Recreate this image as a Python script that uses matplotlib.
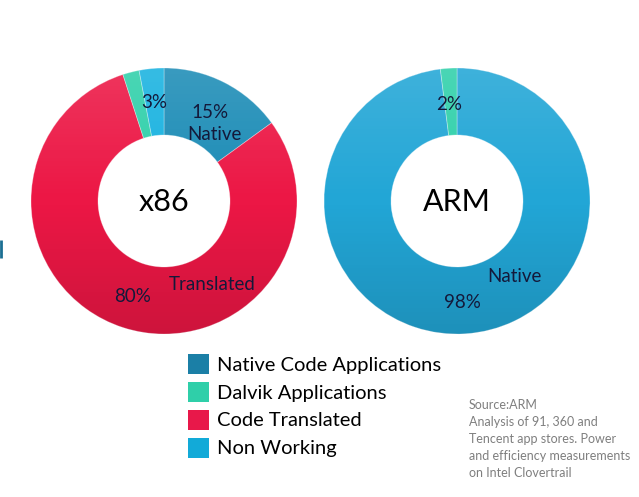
import matplotlib
matplotlib.use("Agg")
import matplotlib.pyplot as plt
import numpy as np
from matplotlib.patches import Wedge, Patch

plt.rcParams['font.family'] = ['Lato', 'DejaVu Sans']

categories = ['Native Code Applications', 'Dalvik Applications',
              'Code Translated', 'Non Working']
colors = {'Native Code Applications': '#1c8cb6',
          'Dalvik Applications': '#2fd0aa',
          'Code Translated': '#ec1745',
          'Non Working': '#18b2e0'}
legend_colors = ['#1b7fa6', '#2fcfa9', '#e8184a', '#12aad8']

# clockwise from 12 o'clock
x86_order = ['Native Code Applications', 'Code Translated',
             'Dalvik Applications', 'Non Working']
x86_values = [15, 80, 2, 3]
arm_order = ['Native Code Applications', 'Dalvik Applications']
arm_values = [98, 2]
arm_colors = ['#22a6d6', '#2fd0aa']

W, H = 639, 497
fig = plt.figure(figsize=(W / 100, H / 100), dpi=100)
ax = fig.add_axes([0, 0, 1, 1])

R = 133
ring = 67


def donut(cx, cy, vals, cols):
    ax.pie(vals, colors=cols, radius=R, center=(cx, cy), startangle=90,
           counterclock=False, frame=True,
           wedgeprops=dict(width=ring, edgecolor=(1, 1, 1, 0.35), linewidth=0.6))
    # soft vertical shading like the slide
    grad = np.zeros((100, 1, 4))
    t = np.linspace(0, 1, 100)
    grad[:, 0, :3] = np.where(t[:, None] < 0.5, 1.0, 0.0)
    grad[:, 0, 3] = np.abs(t - 0.5) * 0.26
    im = ax.imshow(grad, extent=(cx - R, cx + R, cy - R, cy + R),
                   origin='upper', aspect='auto', zorder=3)
    clip = Wedge((cx, cy), R, 0, 360, width=ring, transform=ax.transData)
    im.set_clip_path(clip)


donut(164, H - 201, x86_values, [colors[c] for c in x86_order])
donut(457, H - 201, arm_values, arm_colors)
ax.set_xlim(0, W)
ax.set_ylim(0, H)
ax.set_aspect('equal')
ax.axis('off')

lab = dict(color='#14193a', fontsize=13.5, ha='center', va='center', zorder=5)
ax.text(164, H - 202, 'x86', fontsize=22, color='black', ha='center', va='center', zorder=5)
ax.text(457, H - 202, 'ARM', fontsize=22, color='black', ha='center', va='center', zorder=5)
ax.text(154, H - 103, '3%', **lab)
ax.text(210, H - 113, '15%', **lab)
ax.text(214, H - 134, 'Native', **lab)
ax.text(212, H - 284, 'Translated', **lab)
ax.text(133, H - 297, '80%', **lab)
ax.text(449, H - 104, '2%', **lab)
ax.text(514, H - 277, 'Native', **lab)
ax.text(462, H - 303, '98%', **lab)

# slide fragment at left edge
ax.plot([1, 1], [H - 240, H - 258], color='#1b6f93', lw=2, solid_capstyle='butt')

handles = [Patch(facecolor=c, edgecolor='none') for c in legend_colors]
ax.legend(handles, categories, loc='upper left',
          bbox_to_anchor=(188 / W, 1 - 354 / H), frameon=False, fontsize=14.5,
          handlelength=1.05, handleheight=1.15, handletextpad=0.4,
          labelspacing=0.39, borderaxespad=0, borderpad=0)

ax.text(469, H - 399, 'Source:ARM\nAnalysis of 91, 360 and\nTencent app stores. Power\n'
        'and efficiency measurements\non Intel Clovertrail',
        fontsize=9, color='#7f7f7f', ha='left', va='top', linespacing=1.5)

fig.savefig('out.png', dpi=100)
